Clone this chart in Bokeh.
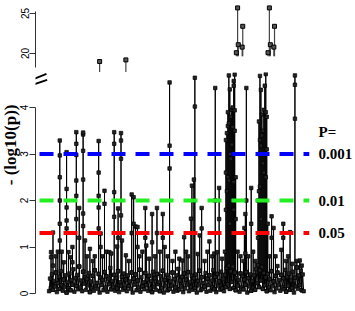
import math
from bokeh.plotting import figure
from bokeh.models import Span, Arrow, FixedTicker, ColumnDataSource, Range1d, LinearAxis, Title
from bokeh.layouts import column
from bokeh.embed import file_html
from bokeh.resources import INLINE

# ---- data: -log10(p) per marker along the genome (index 1..263) ----
floor_vals = [
    0.05, 0.32, 0.12, 0.41, 0.08, 0.27, 0.15, 0.45, 0.03, 0.22, 0.36, 0.10, 0.48, 0.18, 0.06, 0.30, 0.14, 0.39, 0.02, 0.25,
    0.11, 0.43, 0.07, 0.29, 0.19, 0.52, 0.04, 0.33, 0.16, 0.40, 0.09, 0.58, 0.13, 0.28, 0.05, 0.47, 0.21, 0.35, 0.08, 0.31,
    0.17, 0.44, 0.03, 0.26, 0.12, 0.38, 0.06, 0.50, 0.15, 0.23, 0.10, 0.42, 0.02, 0.34, 0.18, 0.29, 0.07, 0.46, 0.13, 0.37,
    0.04, 0.31, 0.20, 0.55, 0.09, 0.27, 0.14, 0.40, 0.06, 0.33, 0.11, 0.48, 0.03, 0.24, 0.17, 0.36, 0.08, 0.43, 0.12, 0.30,
    0.05, 0.39, 0.16, 0.26, 0.10, 0.45, 0.02, 0.32, 0.19, 0.41, 0.07, 0.28, 0.13, 0.51, 0.04, 0.35, 0.15, 0.24, 0.09, 0.44,
    0.18, 0.30, 0.06, 0.38, 0.11, 0.27, 0.03, 0.47, 0.14, 0.33, 0.08, 0.42, 0.20, 0.25, 0.05, 0.37, 0.12, 0.49, 0.02, 0.29,
    0.16, 0.40, 0.07, 0.34, 0.10, 0.26, 0.17, 0.45, 0.04, 0.31, 0.13, 0.39, 0.06, 0.53, 0.09, 0.28, 0.15, 0.36, 0.03, 0.43,
    0.11, 0.30, 0.19, 0.46, 0.05, 0.25, 0.14, 0.38, 0.08, 0.33, 0.12, 0.41, 0.02, 0.27, 0.17, 0.49, 0.07, 0.35, 0.10, 0.23,
    0.15, 0.44, 0.04, 0.32, 0.18, 0.39, 0.06, 0.28, 0.13, 0.50, 0.09, 0.36, 0.03, 0.42, 0.16, 0.26, 0.08, 0.47, 0.11, 0.31,
    0.05, 0.40, 0.14, 0.55, 0.20, 0.60, 0.10, 0.48, 0.25, 0.58, 0.12, 0.45, 0.07, 0.34, 0.17, 0.29, 0.04, 0.43, 0.13, 0.37,
    0.09, 0.30, 0.19, 0.46, 0.02, 0.33, 0.15, 0.41, 0.06, 0.27, 0.12, 0.39, 0.08, 0.52, 0.22, 0.61, 0.14, 0.50, 0.28, 0.57,
    0.10, 0.44, 0.18, 0.35, 0.05, 0.42, 0.13, 0.31, 0.07, 0.48, 0.16, 0.26, 0.03, 0.38, 0.11, 0.45, 0.19, 0.29, 0.06, 0.40,
    0.14, 0.33, 0.09, 0.51, 0.04, 0.36, 0.17, 0.43, 0.08, 0.28, 0.12, 0.47, 0.02, 0.34, 0.15, 0.56, 0.10, 0.39, 0.18, 0.49,
    0.07, 0.41, 0.05,
]

peak_idx = [
    3, 5, 8, 10, 12, 14, 16, 19, 21, 23, 25, 29, 32, 36, 38, 40, 43, 46, 48, 52,
    54, 56, 58, 60, 63, 65, 68, 71, 72, 75, 76, 80, 83, 86, 88, 90, 92, 94, 97, 100,
    101, 104, 107, 110, 112, 115, 118, 120, 123, 125, 128, 131, 135, 138, 140, 142, 144, 147, 148, 150,
    151, 154, 156, 158, 161, 164, 166, 169, 171, 172, 174, 176, 179, 182, 183, 184, 185, 186, 187, 188,
    189, 190, 191, 192, 193, 195, 198, 201, 202, 203, 204, 206, 209, 211, 213, 216, 217, 218, 219, 220,
    221, 222, 223, 224, 225, 226, 228, 230, 232, 234, 236, 240, 242, 245, 247, 249, 251, 254, 256, 259,
    261,
]
peak_vals = [
    [0.78, 0.89], [0.6, 1.31], [0.8], [0.9], [1.14, 1.5, 2.0, 2.5, 2.97, 3.29], [0.9], [0.67],
    [1.4, 1.57, 1.85, 2.25, 3.04], [0.89], [0.78], [0.67, 1.0], [1.6, 2.1, 2.43, 2.98, 3.22, 3.47],
    [1.2, 1.84], [1.45, 1.72, 2.45, 3.07, 3.42, 3.46], [1.14], [0.8], [0.96], [0.7], [0.8],
    [1.4, 1.85, 2.1, 2.6, 3.28],
    [1.0, 1.29], [0.8], [1.93, 2.21], [0.9], [0.89], [0.86], [1.65, 2.18, 3.22, 3.47], [1.01], [1.2, 1.83],
    [1.68, 2.9, 3.29, 3.45], [1.14], [0.82], [0.7], [1.3, 2.13], [1.5, 2.07], [1.44], [1.0, 1.43], [0.8],
    [0.9], [1.2, 1.84],
    [1.03], [0.75], [1.1, 1.71], [0.8], [1.3, 1.84], [0.9], [1.2, 1.71], [1.0], [0.8], [2.69, 3.18, 4.54],
    [0.7], [0.9], [0.75], [0.71], [1.21], [0.9], [0.8], [1.61], [2.32], [2.0, 2.45],
    [4.02, 4.64], [0.85], [1.25], [1.4, 1.84], [0.7], [0.9], [1.12], [0.8], [0.86], [2.0, 4.42],
    [0.89], [1.6, 2.27], [0.75], [0.9], [1.8, 2.6, 3.3], [2.2, 3.45], [2.5, 3.6, 3.9], [2.43, 3.66, 4.69],
    [1.5, 3.0, 4.39], [2.9, 3.8],
    [2.0, 3.2, 3.95], [3.58, 4.0], [1.8, 2.4, 4.47, 4.57], [3.5, 3.94, 4.71], [1.6, 2.5], [0.9], [0.8],
    [0.7], [1.41], [0.86, 1.71], [2.0, 4.42], [0.8], [1.5, 2.27], [0.9], [0.7], [1.2, 2.0],
    [2.2, 3.0, 3.7], [2.3, 3.3, 4.68], [1.6, 3.18, 4.38], [3.4, 3.85],
    [2.0, 2.8, 3.5], [2.6, 3.95], [3.0, 4.47], [2.5, 3.9, 4.72], [3.1, 3.8], [1.5], [0.8], [1.2, 1.66],
    [1.41], [0.8], [0.59], [0.94], [1.2, 1.5], [0.7], [0.8], [1.32], [0.64], [3.76, 4.49, 4.69],
    [0.7], [0.71],
    [0.6],
]

# markers above the axis break
upper_pos = [53, 80, 193.7, 195, 195.7, 199.7, 200.3, 226.3, 227.7, 228.7, 232.3, 233]
upper_val = [19.0, 19.2, 20.1, 25.7, 21.1, 20.8, 23.4, 20.1, 25.7, 21.1, 20.8, 23.4]
upper_base = [17.6, 17.6, 19.66, 19.66, 19.66, 19.66, 19.66, 19.66, 19.66, 19.66, 19.66, 19.66]

thresholds = [0.05, 0.01, 0.001]
threshold_colors = ["#FF0000", "#22EE22", "#0000FF"]
threshold_labels = ["0.05", "0.01", "0.001"]
legend_head = "P="
lower_ticks = [0, 1, 2, 3, 4]
upper_ticks = [20, 25]

# ---- build the connected series ----
peaks = dict(zip(peak_idx, peak_vals))
xs, ys = [], []
for i, f in enumerate(floor_vals, start=1):
    xs.append(i)
    ys.append(f)
    if i in peaks:
        for v in peaks[i]:
            xs.append(i)
            ys.append(v)
        xs.append(i)
        ys.append(f)
src = ColumnDataSource(dict(x=xs, y=ys))
usrc = ColumnDataSource(dict(x=upper_pos, y=upper_val, base=upper_base))

XR = (-13, 269)
LEFT = 34
RIGHT = 39
W = 355
LINE_C = "black"
SERIF = "Liberation Serif"


def style_axis(ax, ticks, bounds):
    ax.ticker = FixedTicker(ticks=ticks)
    ax.bounds = bounds
    ax.major_label_orientation = "vertical"
    ax.major_label_text_font = "Liberation Sans"
    ax.major_label_text_font_size = "10px"
    ax.major_label_text_color = "black"
    ax.major_label_standoff = 1
    ax.major_tick_out = 6
    ax.major_tick_in = 0
    ax.minor_tick_out = 0
    ax.minor_tick_in = 0
    ax.axis_line_color = "#333333"
    ax.major_tick_line_color = "#333333"


upper = figure(width=W, height=72, output_backend="svg", toolbar_location=None,
               x_range=Range1d(*XR), y_range=Range1d(17.625, 26.625),
               x_axis_location=None, min_border_left=LEFT, min_border_right=RIGHT,
               min_border_top=0, min_border_bottom=0, outline_line_color=None)
upper.grid.visible = False
style_axis(upper.yaxis[0], upper_ticks, (18.25, 25.25))
upper.segment(x0="x", y0="y", x1="x", y1="base", source=usrc, line_color="#444444", line_width=1.2)
upper.scatter(x="x", y="y", source=usrc, marker="square", size=4, fill_color="#555555",
              line_color="black", line_width=1)

lower = figure(width=W, height=233, output_backend="svg", toolbar_location=None,
               x_range=Range1d(*XR), y_range=Range1d(-0.086, 4.753),
               x_axis_location=None, min_border_left=LEFT, min_border_right=RIGHT,
               min_border_top=0, min_border_bottom=8, outline_line_color=None)
lower.grid.visible = False
style_axis(lower.yaxis[0], lower_ticks, (0, 4))
lower.line(x="x", y="y", source=src, line_color=LINE_C, line_width=1)
lower.scatter(x="x", y="y", source=src, marker="square", size=3.5, fill_color="#222222",
              line_color="black", line_width=0.7)

levels = [-math.log10(t) for t in thresholds]
for lvl, col in zip(levels, threshold_colors):
    lower.add_layout(Span(location=lvl, dimension="width", line_color=col, line_width=4,
                          line_dash="14 10", line_dash_offset=20))

# significance labels as a bare right-hand axis
head_level = 3.48
rax = LinearAxis(ticker=FixedTicker(ticks=levels + [head_level]),
                 major_label_overrides={**{lv: lb for lv, lb in zip(levels, threshold_labels)},
                                        head_level: legend_head})
rax.axis_line_color = None
rax.major_tick_line_color = None
rax.minor_tick_line_color = None
rax.major_label_standoff = 3
rax.major_label_text_font = SERIF
rax.major_label_text_font_style = "bold"
rax.major_label_text_font_size = "15px"
rax.major_label_text_color = "black"
lower.add_layout(rax, "right")

# y-axis title, anchored near the top of the lower panel so it sits centred on the broken axis
lower.add_layout(Title(text="- (log10(p))", align="right", offset=32, standoff=-4,
                       text_font=SERIF, text_font_style="bold", text_font_size="17px",
                       text_color="black"), "left")

# axis-break marks
for (x0, y0, x1, y1) in [(-19, 4.58, -1.7, 4.725), (-19, 4.467, -1, 4.596)]:
    lower.add_layout(Arrow(x_start=x0, y_start=y0, x_end=x1, y_end=y1, end=None,
                           line_color="black", line_width=1.8))

layout = column(upper, lower)
open("out.html", "w").write(file_html(layout, INLINE))
